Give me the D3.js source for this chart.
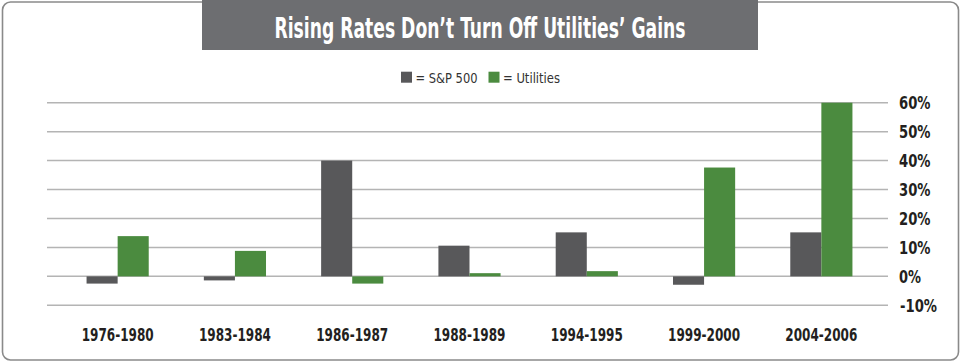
<!DOCTYPE html>
<html>
<head>
<meta charset="utf-8">
<script src="https://cdn.jsdelivr.net/npm/d3@7"></script>
<style>
  body { margin: 0; background: #fff; }
  svg text { font-family: "Liberation Sans Narrow", "DejaVu Sans Condensed", "Roboto", sans-serif; }
</style>
</head>
<body>
<div id="chart"></div>
<script>
// data
var categories = ['1976-1980', '1983-1984', '1986-1987', '1988-1989', '1994-1995', '1999-2000', '2004-2006']
var sp500 = [-2.5, -1.4, 40, 10.6, 15.2, -2.9, 15.2]
var utilities = [13.9, 8.8, -2.5, 1.1, 1.8, 37.6, 60]
var yTicks = [-10, 0, 10, 20, 30, 40, 50, 60]
var seriesNames = ['S&P 500', 'Utilities']
var colors = ['#58585a', '#4b8b3f']

var width = 960, height = 362

var svg = d3.select('#chart').append('svg')
  .attr('width', width)
  .attr('height', height)

// outer frame
svg.append('rect')
  .attr('x', 2.5).attr('y', 2)
  .attr('width', 956).attr('height', 358)
  .attr('rx', 8).attr('ry', 8)
  .attr('fill', 'none')
  .attr('stroke', '#8a8a8a')
  .attr('stroke-width', 1.6)

// title box
svg.append('rect')
  .attr('x', 202).attr('y', 0)
  .attr('width', 556).attr('height', 50)
  .attr('fill', '#6d6e71')
svg.append('text')
  .attr('x', 480).attr('y', 38)
  .attr('text-anchor', 'middle')
  .attr('fill', '#fff')
  .attr('font-size', 28)
  .attr('font-weight', 'bold')
  .attr('textLength', 411)
  .attr('lengthAdjust', 'spacingAndGlyphs')
  .text('Rising Rates Don\u2019t Turn Off Utilities\u2019 Gains')

// legend
var legend = [
  {x: 401, textW: 62},
  {x: 488.5, textW: 57}
]
legend.forEach(function(l, i) {
  svg.append('rect')
    .attr('x', l.x).attr('y', 71.7)
    .attr('width', 11).attr('height', 11)
    .attr('fill', colors[i])
  svg.append('text')
    .attr('x', l.x + 14.5).attr('y', 82.7)
    .attr('fill', '#333')
    .attr('font-size', 13.5)
    .attr('textLength', l.textW)
    .attr('lengthAdjust', 'spacingAndGlyphs')
    .text('= ' + seriesNames[i])
})

// scales
var y = d3.scaleLinear().domain([-10, 60]).range([305.3, 102.7])
var x0 = d3.scaleBand().domain(categories).range([59, 880])
  .paddingInner(0.47).paddingOuter(0.235)
var x1 = d3.scaleBand().domain(seriesNames).range([0, x0.bandwidth()])

// gridlines
svg.append('g').selectAll('line')
  .data(yTicks)
  .enter()
  .append('line')
  .attr('x1', 47).attr('x2', 888)
  .attr('y1', function(d) { return y(d) })
  .attr('y2', function(d) { return y(d) })
  .attr('stroke', '#b4b4b4')
  .attr('stroke-width', 1.5)

// right axis labels
svg.append('g').selectAll('text')
  .data(yTicks)
  .enter()
  .append('text')
  .attr('x', function(d) { return d < 0 ? 900 : 899 })
  .attr('y', function(d) { return y(d) + 6.3 })
  .attr('fill', '#231f20')
  .attr('font-size', 17.5)
  .attr('font-weight', 'bold')
  .attr('textLength', function(d) { return d < 0 ? 37 : (d === 0 ? 22 : 31.5) })
  .attr('lengthAdjust', 'spacingAndGlyphs')
  .text(function(d) { return d + '%' })

// bars
var rows = categories.map(function(c, i) {
  return {cat: c, vals: [sp500[i], utilities[i]]}
})

var group = svg.append('g').selectAll('g')
  .data(rows)
  .enter()
  .append('g')
  .attr('transform', function(d) { return 'translate(' + x0(d.cat) + ',0)' })

group.selectAll('rect')
  .data(function(d) { return d.vals.map(function(v, j) { return {name: seriesNames[j], v: v, j: j} }) })
  .enter()
  .append('rect')
  .attr('x', function(d) { return x1(d.name) })
  .attr('width', x1.bandwidth())
  .attr('y', function(d) { return Math.min(y(d.v), y(0)) })
  .attr('height', function(d) { return Math.abs(y(d.v) - y(0)) })
  .attr('fill', function(d) { return colors[d.j] })

// category labels
svg.append('g').selectAll('text')
  .data(categories)
  .enter()
  .append('text')
  .attr('x', function(d) { return x0(d) + x0.bandwidth() / 2 })
  .attr('y', 340.7)
  .attr('text-anchor', 'middle')
  .attr('fill', '#231f20')
  .attr('font-size', 17.5)
  .attr('font-weight', 'bold')
  .attr('textLength', 72)
  .attr('lengthAdjust', 'spacingAndGlyphs')
  .text(function(d) { return d })
</script>
</body>
</html>
